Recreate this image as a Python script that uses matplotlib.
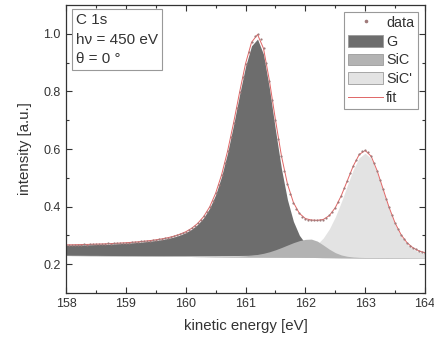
import matplotlib
matplotlib.use("Agg")
import matplotlib.pyplot as plt
from matplotlib.patches import Patch
from matplotlib.lines import Line2D
import numpy as np

# measured spectrum, 0.05 eV steps from 158 to 164 eV
e_data = np.arange(15800, 16401, 5) / 100
data = [0.267, 0.266, 0.268, 0.267, 0.268, 0.267, 0.269, 0.268, 0.269, 0.270,
        0.269, 0.271, 0.270, 0.271, 0.272, 0.271, 0.273, 0.272, 0.274, 0.273,
        0.275, 0.275, 0.276, 0.277, 0.277, 0.279, 0.279, 0.281, 0.282, 0.283,
        0.285, 0.286, 0.288, 0.290, 0.292, 0.294, 0.297, 0.300, 0.304, 0.308,
        0.313, 0.318, 0.325, 0.333, 0.342, 0.353, 0.366, 0.381, 0.399, 0.421,
        0.447, 0.476, 0.511, 0.550, 0.593, 0.641, 0.691, 0.744, 0.797, 0.849,
        0.897, 0.938, 0.971, 0.992, 0.998, 0.983, 0.950, 0.899, 0.836, 0.769,
        0.701, 0.636, 0.576, 0.524, 0.479, 0.443, 0.414, 0.392, 0.376, 0.365,
        0.358, 0.355, 0.353, 0.352, 0.352, 0.353, 0.355, 0.361, 0.369, 0.381,
        0.396, 0.416, 0.438, 0.463, 0.489, 0.516, 0.541, 0.563, 0.581, 0.592,
        0.595, 0.589, 0.575, 0.552, 0.525, 0.493, 0.461, 0.428, 0.397, 0.369,
        0.343, 0.321, 0.302, 0.287, 0.274, 0.264, 0.257, 0.251, 0.246, 0.242,
        0.240]

# fit components, 0.1 eV steps
e_fit = np.arange(1580, 1641) / 10
background = [0.2300, 0.2298, 0.2297, 0.2295, 0.2293, 0.2292, 0.2290, 0.2288, 0.2287, 0.2285,
              0.2283, 0.2282, 0.2280, 0.2278, 0.2277, 0.2275, 0.2273, 0.2272, 0.2270, 0.2268,
              0.2267, 0.2265, 0.2263, 0.2262, 0.2260, 0.2258, 0.2257, 0.2255, 0.2253, 0.2252,
              0.2250, 0.2248, 0.2247, 0.2245, 0.2243, 0.2242, 0.2240, 0.2238, 0.2237, 0.2235,
              0.2233, 0.2232, 0.2230, 0.2228, 0.2227, 0.2225, 0.2223, 0.2222, 0.2220, 0.2218,
              0.2217, 0.2215, 0.2213, 0.2212, 0.2210, 0.2208, 0.2207, 0.2205, 0.2203, 0.2202,
              0.2200]
g_peak = [0.0357, 0.0362, 0.0368, 0.0374, 0.0381, 0.0389, 0.0397, 0.0407, 0.0417, 0.0429,
          0.0443, 0.0459, 0.0476, 0.0497, 0.0520, 0.0548, 0.0580, 0.0621, 0.0672, 0.0739,
          0.0827, 0.0948, 0.1118, 0.1353, 0.1687, 0.2158, 0.2798, 0.3619, 0.4591, 0.5639,
          0.6622, 0.7338, 0.7575, 0.7046, 0.5852, 0.4418, 0.3077, 0.2004, 0.1249, 0.0766,
          0.0485, 0.0336, 0.0256, 0.0207, 0.0173, 0.0149, 0.0130, 0.0114, 0.0101, 0.0090,
          0.0081, 0.0073, 0.0066, 0.0060, 0.0055, 0.0050, 0.0046, 0.0043, 0.0040, 0.0037,
          0.0034]
sic_peak = [0.0002, 0.0002, 0.0002, 0.0002, 0.0002, 0.0002, 0.0002, 0.0002, 0.0003, 0.0003,
            0.0003, 0.0003, 0.0003, 0.0004, 0.0004, 0.0004, 0.0005, 0.0005, 0.0006, 0.0006,
            0.0007, 0.0008, 0.0008, 0.0009, 0.0010, 0.0012, 0.0014, 0.0017, 0.0022, 0.0030,
            0.0043, 0.0062, 0.0091, 0.0132, 0.0187, 0.0256, 0.0337, 0.0424, 0.0509, 0.0581,
            0.0628, 0.0638, 0.0569, 0.0436, 0.0293, 0.0175, 0.0096, 0.0051, 0.0028, 0.0018,
            0.0013, 0.0010, 0.0009, 0.0007, 0.0006, 0.0005, 0.0005, 0.0004, 0.0004, 0.0003,
            0.0003]
sic2_peak = [0.0010, 0.0010, 0.0010, 0.0011, 0.0011, 0.0012, 0.0012, 0.0013, 0.0013, 0.0014,
             0.0014, 0.0015, 0.0016, 0.0016, 0.0017, 0.0018, 0.0019, 0.0020, 0.0022, 0.0023,
             0.0024, 0.0026, 0.0028, 0.0030, 0.0032, 0.0035, 0.0038, 0.0041, 0.0045, 0.0049,
             0.0054, 0.0059, 0.0066, 0.0073, 0.0082, 0.0093, 0.0106, 0.0123, 0.0147, 0.0182,
             0.0238, 0.0326, 0.0467, 0.0682, 0.0994, 0.1413, 0.1930, 0.2505, 0.3060, 0.3481,
             0.3640, 0.3450, 0.2958, 0.2327, 0.1700, 0.1167, 0.0765, 0.0491, 0.0319, 0.0217,
             0.0159]

plt.rcParams['font.family'] = ['Liberation Sans', 'DejaVu Sans']

bg = np.array(background)
g = np.array(g_peak)
s1 = np.array(sic_peak)
s2 = np.array(sic2_peak)
fit = bg + g + s1 + s2

c_g = '#6d6d6d'
c_sic = '#b3b3b3'
c_sic2 = '#e3e3e3'
c_fit = '#e06666'
c_data = '#a07a7a'
c_txt = '#333333'

fig = plt.figure(figsize=(4.35, 3.41), dpi=100)
ax = fig.add_axes([0.152, 0.141, 0.825, 0.844])

ax.fill_between(e_fit, bg, bg + g, color=c_g, lw=0)
ax.fill_between(e_fit, bg, bg + s2, color=c_sic2, lw=0)
ax.fill_between(e_fit, bg, bg + s1, color=c_sic, lw=0)
ax.plot(e_fit, fit, color=c_fit, lw=0.7)
ax.plot(e_data, data, 'o', color=c_data, ms=1.6, mew=0)

ax.set_xlim(158, 164)
ax.set_ylim(0.1, 1.1)
ax.set_xticks(np.arange(158, 165, 1))
ax.set_xticks(np.arange(158.5, 164, 1), minor=True)
ax.set_yticks([0.2, 0.4, 0.6, 0.8, 1.0])
ax.set_yticks([0.1, 0.3, 0.5, 0.7, 0.9], minor=True)
ax.tick_params(which='both', direction='in', top=True, right=True,
               colors=c_txt, labelsize=9, width=0.8, pad=4)
ax.tick_params(which='major', length=4)
ax.tick_params(which='minor', length=2)
for sp in ax.spines.values():
    sp.set_color(c_txt)
    sp.set_linewidth(0.9)

ax.set_xlabel('kinetic energy [eV]', fontsize=10.8, color=c_txt, labelpad=6)
ax.set_ylabel('intensity [a.u.]', fontsize=10.8, color=c_txt, labelpad=8)

ax.text(0.028, 0.972, 'C 1s\nh\u03bd = 450 eV\n\u03b8 = 0 \u00b0', transform=ax.transAxes,
        ha='left', va='top', fontsize=11, color=c_txt, linespacing=1.5,
        bbox=dict(boxstyle='square,pad=0.25', fc='white', ec='#999999', lw=0.8))

handles = [Line2D([], [], ls='none', marker='o', ms=1.6, color=c_data),
           Patch(fc=c_g, ec='#9a9a9a', lw=0.6),
           Patch(fc=c_sic, ec='#9a9a9a', lw=0.6),
           Patch(fc=c_sic2, ec='#9a9a9a', lw=0.6),
           Line2D([], [], color=c_fit, lw=0.7)]
labels = ['data', 'G', 'SiC', "SiC'"]
labels.append('fit')
leg = ax.legend(handles, labels, loc='upper right', fontsize=10.4, frameon=True,
                fancybox=False, edgecolor='#999999', handlelength=2.4, handleheight=0.9,
                handletextpad=0.2, labelspacing=0.33, borderpad=0.3,
                borderaxespad=0.45, framealpha=1)
leg.get_frame().set_linewidth(0.8)
for t in leg.get_texts():
    t.set_color(c_txt)

fig.savefig('out.png', dpi=100)
